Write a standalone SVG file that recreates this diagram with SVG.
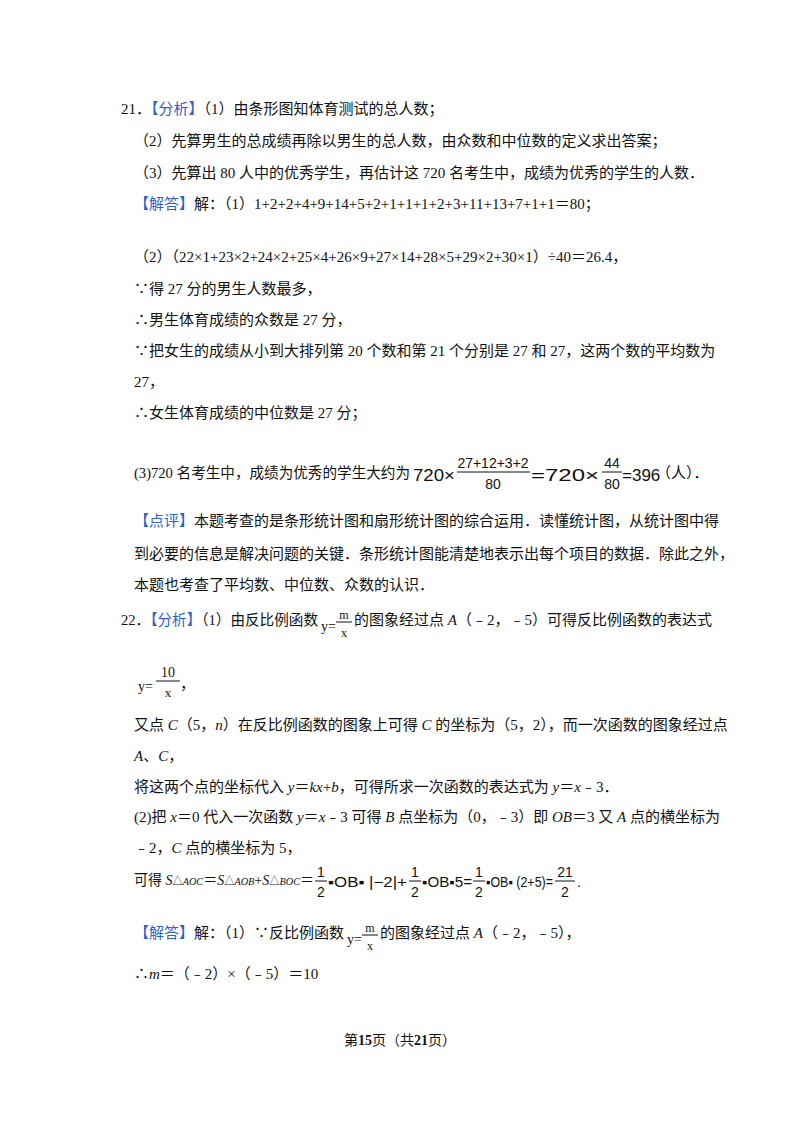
<svg xmlns="http://www.w3.org/2000/svg" width="800" height="1132" viewBox="0 0 800 1132">
<style>
text{font-family:"Liberation Serif","Noto Sans CJK SC",serif;font-size:15px;fill:#111}
.b{fill:#3060c8}
.s{font-family:"Liberation Sans","Noto Sans CJK SC",sans-serif;font-size:14px}
line{stroke:#111;stroke-width:1}
</style>
<rect width="800" height="1132" fill="#fff"/>
<text x="121" y="114">21．<tspan class="b">【分析】</tspan>（1）由条形图知体育测试的总人数；</text>
<text x="134" y="146">（2）先算男生的总成绩再除以男生的总人数，由众数和中位数的定义求出答案；</text>
<text x="134" y="178">（3）先算出 80 人中的优秀学生，再估计这 720 名考生中，成绩为优秀的学生的人数．</text>
<text x="134" y="209"><tspan class="b">【解答】</tspan>解：（1）1+2+2+4+9+14+5+2+1+1+1+2+3+11+13+7+1+1＝80；</text>
<text x="134" y="262">（2）（22×1+23×2+24×2+25×4+26×9+27×14+28×5+29×2+30×1）÷40＝26.4，</text>
<text x="134" y="294">∵得 27 分的男生人数最多，</text>
<text x="134" y="325">∴男生体育成绩的众数是 27 分，</text>
<text x="134" y="356">∵把女生的成绩从小到大排列第 20 个数和第 21 个分别是 27 和 27，这两个数的平均数为</text>
<text x="134" y="387">27，</text>
<text x="134" y="418">∴女生体育成绩的中位数是 27 分；</text>
<text x="134" y="478" textLength="276" lengthAdjust="spacingAndGlyphs">(3)720 名考生中，成绩为优秀的学生大约为</text>
<text x="413" y="481" class="s" style="font-size:17px" textLength="42" lengthAdjust="spacingAndGlyphs">720×</text>
<text x="493" y="468" class="s" text-anchor="middle">27+12+3+2</text>
<line x1="457" y1="472" x2="530" y2="472"/>
<text x="493" y="489" class="s" text-anchor="middle">80</text>
<text x="531" y="481" class="s" style="font-size:17px" textLength="68" lengthAdjust="spacingAndGlyphs">=720×</text>
<text x="612" y="468" class="s" text-anchor="middle">44</text>
<line x1="602" y1="472" x2="622" y2="472"/>
<text x="612" y="489" class="s" text-anchor="middle">80</text>
<text x="622" y="481" class="s" style="font-size:17px">=396</text>
<text x="656" y="478">（人）．</text>
<text x="134" y="526"><tspan class="b">【点评】</tspan>本题考查的是条形统计图和扇形统计图的综合运用．读懂统计图，从统计图中得</text>
<text x="134" y="559">到必要的信息是解决问题的关键．条形统计图能清楚地表示出每个项目的数据．除此之外，</text>
<text x="134" y="590">本题也考查了平均数、中位数、众数的认识．</text>
<text x="121" y="625" textLength="197" lengthAdjust="spacingAndGlyphs">22．<tspan class="b">【分析】</tspan>（1）由反比例函数</text>
<text x="321" y="631" style="font-size:14px">y=</text>
<text x="344" y="619" style="font-size:12px" text-anchor="middle">m</text>
<line x1="336" y1="622" x2="352" y2="622"/>
<text x="344" y="637" style="font-size:12px" text-anchor="middle">x</text>
<text x="354" y="625">的图象经过点 <tspan font-style="italic">A</tspan>（﹣2，﹣5）可得反比例函数的表达式</text>
<text x="138" y="691" style="font-size:14px">y=</text>
<text x="168" y="677" style="font-size:14px" text-anchor="middle">10</text>
<line x1="156" y1="681" x2="180" y2="681"/>
<text x="168" y="697" style="font-size:13px" text-anchor="middle">x</text>
<text x="180" y="689">，</text>
<text x="134" y="730">又点 <tspan font-style="italic">C</tspan>（5，<tspan font-style="italic">n</tspan>）在反比例函数的图象上可得 <tspan font-style="italic">C</tspan> 的坐标为（5，2），而一次函数的图象经过点</text>
<text x="134" y="761"><tspan font-style="italic">A</tspan>、<tspan font-style="italic">C</tspan>，</text>
<text x="134" y="792">将这两个点的坐标代入 <tspan font-style="italic">y</tspan>＝<tspan font-style="italic">kx</tspan>+<tspan font-style="italic">b</tspan>，可得所求一次函数的表达式为 <tspan font-style="italic">y</tspan>＝<tspan font-style="italic">x</tspan>﹣3．</text>
<text x="134" y="822">(2)把 <tspan font-style="italic">x</tspan>＝0 代入一次函数 <tspan font-style="italic">y</tspan>＝<tspan font-style="italic">x</tspan>﹣3 可得 <tspan font-style="italic">B</tspan> 点坐标为（0，﹣3）即 <tspan font-style="italic">OB</tspan>＝3 又 <tspan font-style="italic">A</tspan> 点的横坐标为</text>
<text x="134" y="853">﹣2，<tspan font-style="italic">C</tspan> 点的横坐标为 5，</text>
<text x="134" y="885" textLength="180" lengthAdjust="spacingAndGlyphs">可得 <tspan font-style="italic">S</tspan><tspan font-size="11">△<tspan font-style="italic">AOC</tspan></tspan>＝<tspan font-style="italic">S</tspan><tspan font-size="11">△<tspan font-style="italic">AOB</tspan></tspan>+<tspan font-style="italic">S</tspan><tspan font-size="11">△<tspan font-style="italic">BOC</tspan></tspan>＝</text>
<text x="321" y="877" class="s" text-anchor="middle">1</text>
<line x1="315" y1="881" x2="327" y2="881"/>
<text x="321" y="897" class="s" text-anchor="middle">2</text>
<text x="328" y="887" class="s" textLength="79" lengthAdjust="spacingAndGlyphs">▪OB▪ |−2|+</text>
<text x="415" y="877" class="s" text-anchor="middle">1</text>
<line x1="409" y1="881" x2="421" y2="881"/>
<text x="415" y="897" class="s" text-anchor="middle">2</text>
<text x="422" y="887" class="s" textLength="50" lengthAdjust="spacingAndGlyphs">▪OB▪5=</text>
<text x="479" y="877" class="s" text-anchor="middle">1</text>
<line x1="473" y1="881" x2="485" y2="881"/>
<text x="479" y="897" class="s" text-anchor="middle">2</text>
<text x="486" y="887" class="s" textLength="67" lengthAdjust="spacingAndGlyphs">▪OB▪ (2+5)=</text>
<text x="565" y="877" class="s" text-anchor="middle">21</text>
<line x1="555" y1="881" x2="575" y2="881"/>
<text x="565" y="897" class="s" text-anchor="middle">2</text>
<text x="577" y="887" class="s">.</text>
<text x="134" y="938" textLength="210" lengthAdjust="spacingAndGlyphs"><tspan class="b">【解答】</tspan>解：（1）∵反比例函数</text>
<text x="347" y="944" style="font-size:14px">y=</text>
<text x="370" y="932" style="font-size:12px" text-anchor="middle">m</text>
<line x1="362" y1="935" x2="378" y2="935"/>
<text x="370" y="950" style="font-size:12px" text-anchor="middle">x</text>
<text x="380" y="938">的图象经过点 <tspan font-style="italic">A</tspan>（﹣2，﹣5），</text>
<text x="134" y="979">∴<tspan font-style="italic">m</tspan>＝（﹣2）×（﹣5）＝10</text>
<text x="400" y="1045" text-anchor="middle" style="font-size:14px">第<tspan font-weight="bold">15</tspan>页（共<tspan font-weight="bold">21</tspan>页）</text>
</svg>
